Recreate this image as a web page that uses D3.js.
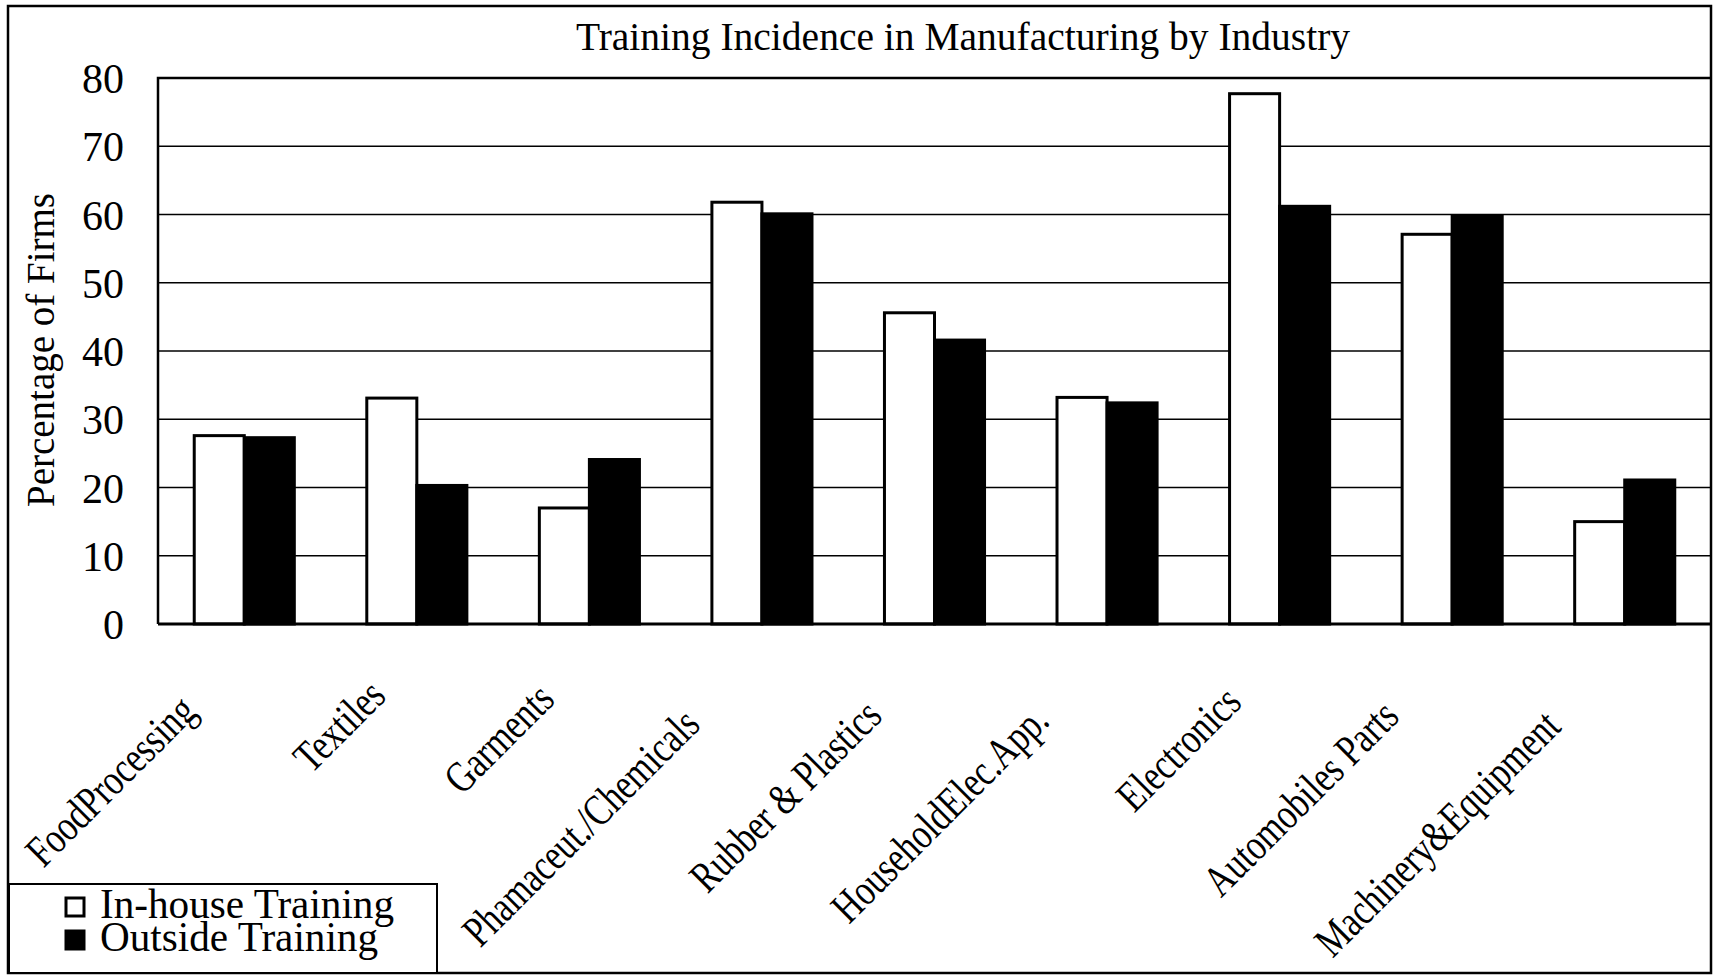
<!DOCTYPE html>
<html>
<head>
<meta charset="utf-8">
<script src="https://cdn.jsdelivr.net/npm/d3@7"></script>
<style>
  html, body { margin: 0; padding: 0; background: #fff; }
  svg { display: block; font-family: "Liberation Serif", "Times New Roman", serif; }
</style>
</head>
<body>
<div class="figure"></div>
<script>
const categories = [
  "FoodProcessing",
  "Textiles",
  "Garments",
  "Phamaceut./Chemicals",
  "Rubber & Plastics",
  "HouseholdElec.App.",
  "Electronics",
  "Automobiles Parts",
  "Machinery&Equipment",
];
const seriesNames = ["In-house Training", "Outside Training"];
const inHouse = [27.6, 33.1, 17.0, 61.8, 45.6, 33.2, 77.7, 57.1, 15.0];
const outside = [27.3, 20.3, 24.1, 60.1, 41.6, 32.4, 61.2, 59.8, 21.1];
const yTicks = [0, 10, 20, 30, 40, 50, 60, 70, 80];

class TrainingChart {
  width = 1713;
  height = 976;
  plot = { left: 158, right: 1711, top: 78, bottom: 624 };
  fills = ["#fff", "#000"];

  constructor() {
    this.draw = this.draw.bind(this);
  }

  draw(el) {
    const svg = el
      .append("svg")
      .attr("width", this.width)
      .attr("height", this.height);

    const rows = categories.map((c, i) => ({
      key: c,
      values: [inHouse[i], outside[i]],
    }));

    const x0 = d3
      .scaleBand()
      .domain(categories)
      .range([this.plot.left, this.plot.right])
      .paddingInner(0.42)
      .paddingOuter(0.21);
    const x1 = d3.scaleBand().domain([0, 1]).range([0, x0.bandwidth()]);
    const y = d3
      .scaleLinear()
      .domain([0, 80])
      .range([this.plot.bottom, this.plot.top]);

    // outer frame
    svg
      .append("rect")
      .attr("x", 8)
      .attr("y", 6)
      .attr("width", 1703)
      .attr("height", 967)
      .attr("fill", "none")
      .attr("stroke", "#000")
      .attr("stroke-width", 2.5);

    svg
      .append("text")
      .attr("x", 963)
      .attr("y", 50)
      .attr("text-anchor", "middle")
      .attr("font-size", 39.5)
      .text("Training Incidence in Manufacturing by Industry");

    // gridlines
    svg
      .append("g")
      .selectAll("line")
      .data(yTicks.filter((d) => d > 0 && d < 80))
      .join("line")
      .attr("x1", this.plot.left)
      .attr("x2", this.plot.right)
      .attr("y1", (d) => y(d))
      .attr("y2", (d) => y(d))
      .attr("stroke", "#000")
      .attr("stroke-width", 1.6);

    // plot top + left edge
    svg
      .append("path")
      .attr("d", `M${this.plot.right},${y(80)}H${this.plot.left}V${y(0)}`)
      .attr("fill", "none")
      .attr("stroke", "#000")
      .attr("stroke-width", 2.5);

    svg
      .append("g")
      .selectAll("text")
      .data(yTicks)
      .join("text")
      .attr("x", 124)
      .attr("y", (d) => y(d))
      .attr("dy", "0.36em")
      .attr("text-anchor", "end")
      .attr("font-size", 42)
      .text((d) => d);

    svg
      .append("text")
      .attr("transform", "translate(54,350) rotate(-90)")
      .attr("text-anchor", "middle")
      .attr("font-size", 39)
      .text("Percentage of Firms");

    // bars
    const groups = svg
      .append("g")
      .selectAll("g")
      .data(rows)
      .join("g")
      .attr("transform", (d) => `translate(${x0(d.key)},0)`);
    groups
      .selectAll("rect")
      .data((d) => d.values)
      .join("rect")
      .attr("x", (_, i) => x1(i))
      .attr("y", (d) => y(d))
      .attr("width", x1.bandwidth())
      .attr("height", (d) => y(0) - y(d))
      .attr("fill", (_, i) => this.fills[i])
      .attr("stroke", "#000")
      .attr("stroke-width", 3);

    svg
      .append("line")
      .attr("x1", this.plot.left)
      .attr("x2", this.plot.right)
      .attr("y1", y(0))
      .attr("y2", y(0))
      .attr("stroke", "#000")
      .attr("stroke-width", 3);

    // category labels, slanted and condensed
    const squeeze = 0.78;
    svg
      .append("g")
      .selectAll("text")
      .data(categories)
      .join("text")
      .attr("font-size", 44)
      .attr("text-anchor", "end")
      .text((d) => d)
      .each(function (d) {
        const w = this.getComputedTextLength() * squeeze;
        const cx = x0(d) + x0.bandwidth() / 2 - 13 - 0.15 * w;
        const cy = 683 + 0.14 * w;
        d3.select(this).attr(
          "transform",
          `translate(${cx},${cy}) rotate(-45) scale(${squeeze},1)`
        );
      });

    // legend
    const legend = svg.append("g");
    legend
      .append("rect")
      .attr("x", 9)
      .attr("y", 884)
      .attr("width", 428)
      .attr("height", 89)
      .attr("fill", "#fff")
      .attr("stroke", "#000")
      .attr("stroke-width", 2);
    const items = legend
      .selectAll("g")
      .data(seriesNames)
      .join("g")
      .attr("transform", (_, i) => `translate(0,${i * 33})`);
    items
      .append("rect")
      .attr("x", 66)
      .attr("y", 898)
      .attr("width", 18)
      .attr("height", 18)
      .attr("fill", (_, i) => this.fills[i])
      .attr("stroke", "#000")
      .attr("stroke-width", 3);
    items
      .append("text")
      .attr("x", 100)
      .attr("y", 918)
      .attr("font-size", 41.2)
      .text((d) => d);
  }
}

const chart = new TrainingChart();
chart.draw(d3.select(".figure"));
</script>
</body>
</html>
